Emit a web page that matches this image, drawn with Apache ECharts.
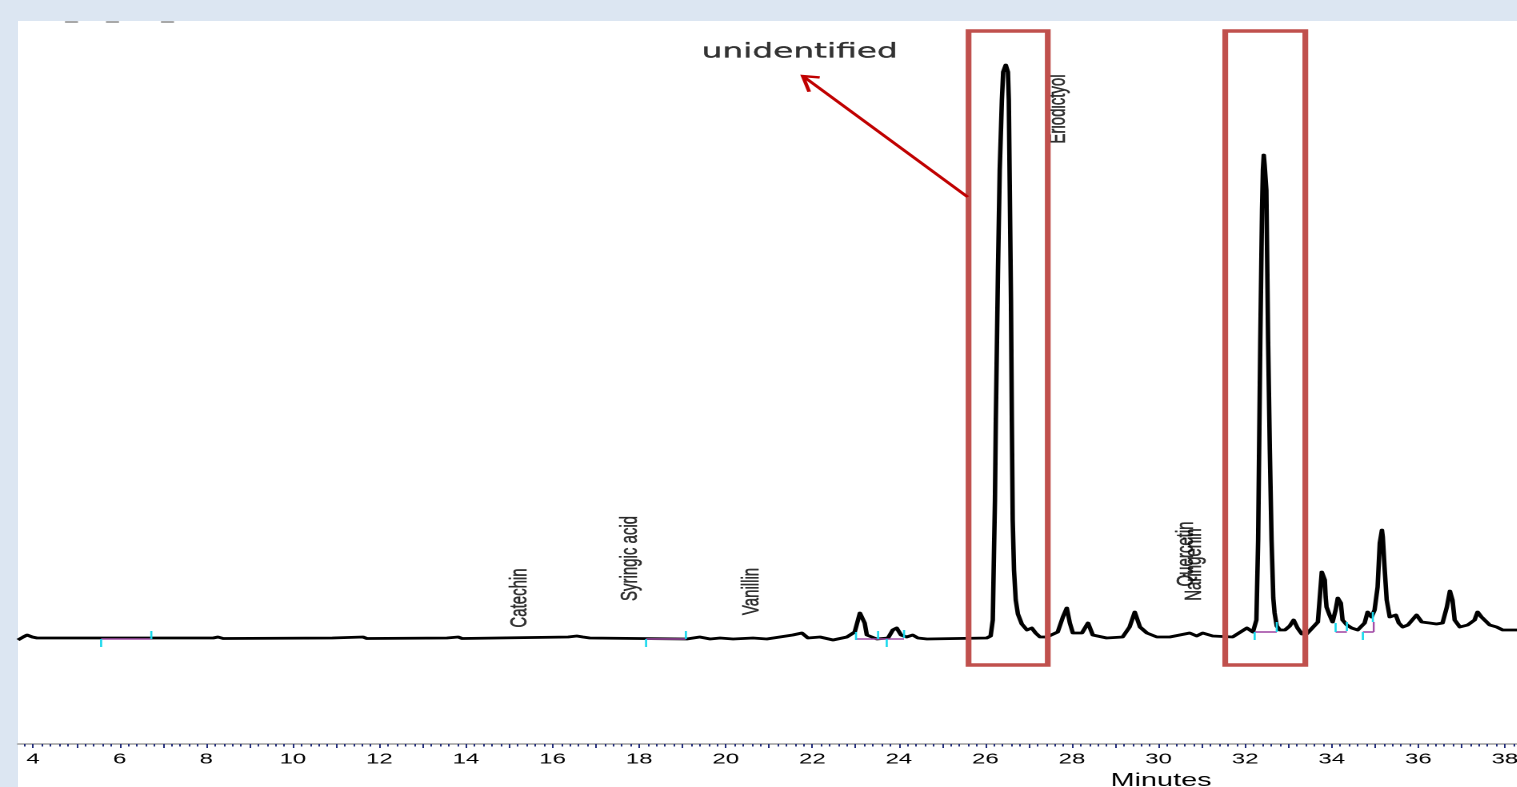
<!DOCTYPE html>
<html><head><meta charset="utf-8">
<script src="https://cdn.jsdelivr.net/npm/echarts@6/dist/echarts.min.js"></script>
<style>
html,body{margin:0;padding:0;background:#dce6f2;overflow:hidden;width:1517px;height:787px;}
#panel{position:absolute;left:18px;top:21px;width:1499px;height:766px;background:#fff;}
#wrap{position:absolute;left:0;top:0;width:948.125px;height:787px;transform:scaleX(1.6);transform-origin:0 0;}
#chart{position:absolute;left:0;top:0;width:948.125px;height:787px;}
</style></head><body>
<div id="panel"></div>
<div id="wrap"><div id="chart"></div></div>
<script>
// ---------------- data ----------------
const retentionTime = [
 3.65,3.77,3.86,3.98,4.09,8.16,8.27,8.39,10.91,10.97,11.62,11.71,13.56,13.63,13.82,13.91,
 16.36,16.56,16.70,16.86,19.10,19.40,19.64,19.87,20.17,20.63,20.95,21.25,21.55,21.76,21.90,
 22.18,22.48,22.80,22.98,23.10,23.15,23.21,23.26,23.49,23.75,23.86,23.95,24.05,24.18,24.32,
 24.44,24.65,26.03,26.12,26.17,26.19,26.22,26.24,26.29,26.33,26.38,26.41,26.47,26.52,26.54,
 26.56,26.59,26.61,26.63,26.66,26.70,26.75,26.84,26.96,27.07,27.16,27.26,27.42,27.67,27.79,
 27.88,27.95,28.02,28.23,28.37,28.48,28.80,29.17,29.33,29.45,29.57,29.73,29.96,30.26,30.72,
 30.88,31.02,31.25,31.71,32.04,32.18,32.26,32.30,32.35,32.39,32.41,32.43,32.45,32.49,32.53,
 32.57,32.61,32.65,32.68,32.73,32.80,32.92,33.03,33.12,33.21,33.31,33.42,33.68,33.72,33.77,
 33.79,33.84,33.86,33.88,33.95,34.02,34.09,34.14,34.21,34.25,34.35,34.46,34.60,34.76,34.83,
 34.92,34.99,35.06,35.11,35.16,35.18,35.22,35.27,35.34,35.48,35.55,35.64,35.76,35.96,36.08,
 36.26,36.42,36.56,36.66,36.73,36.79,36.84,36.96,37.14,37.30,37.37,37.46,37.53,37.65,37.81,
 37.95,38.28
];
const absorbance = [
 -2,1,3,1,0,0,1,-0.5,0,1,1,-0.5,0,1,1,-0.5,
 1,2,1,0,-1,1,-1,0,-1,0,-1,1,3,5,0,
 1,-2,1,6,25,26,15,3,-1,0,8,10,3,1,3,
 0,-1,0,2,18,68,138,218,368,468,538,566,573,566,538,
 458,338,218,118,68,38,24,14,8,10,5,1,1,6,21,
 30,15,5,5,15,3,0,1,11,26,11,5,1,1,5,
 2,5,2,1,10,6,18,98,298,428,468,483,473,448,298,
 188,98,40,25,12,8,8,12,18,10,4,4,16,38,66,
 67,58,41,31,23,16,28,40,35,18,13,10,8,15,26,
 21,28,51,95,108,101,71,38,21,23,15,11,13,23,16,
 15,14,15,31,47,38,18,11,13,18,26,21,20,13,11,
 8,8
];
const tickLabels = [4,6,8,10,12,14,16,18,20,22,24,26,28,30,32,34,36,38];
const compoundNames = ['Catechin','Syringic acid','Vanillin','Eriodictyol','Quercetin','Naringenin'];
const compoundTimes = [15.25,17.79,20.61,27.68,30.63,30.82];
const highlightWindows = [[25.61,27.44],[31.54,33.39]];
const integrationStart = [5.57,18.16,23.01,32.22,34.09,34.72];
const integrationEnd   = [6.73,19.08,24.12,32.73,34.35,34.97];
const integrationLevel = [-1,-1,-1,6,6,6];
const peakMarkTimes = [5.57,6.73,18.16,19.08,23.01,23.52,23.72,24.12,32.22,32.73,34.09,34.35,34.72,34.95];
const peakMarkTop    = [-1,7,-1,7,6,7,-1,8,6,16,15,16,6,26];
const peakMarkBottom = [-9,-1,-9,-1,-2,-1,-9,0,-2,6,6,7,-2,16];
const annotationText = 'unidentified';
const annotationPoint = [21.71,586];
const arrowFrom = [25.59,441];
const arrowTo = [21.78,562];

// ---------------- layout ----------------
const S = 1.6;               // horizontal stretch of the reference picture
const W = 1517 / S, H = 787;
const X_MIN = 3.65, X_MAX = 38.28, Y_MIN = -106, Y_MAX = 617;
const labelCenters = [40,79.5,46.5,529,84,73.5];
const boxTop = 607, boxBottom = -27;
const FONT = 'Liberation Sans, Arial, sans-serif';

const majorTicks = []; for (let v = 4; v <= 38; v++) majorTicks.push(v);
const minorTicks = []; for (let i = 19; i <= 191; i++) minorTicks.push(+(i*0.2).toFixed(1));

const signal = retentionTime.map((t,i)=>[t,absorbance[i]]);

const chart = echarts.init(document.getElementById('chart'), null, {devicePixelRatio: 2, width: W, height: H});
chart.setOption({
  animation:false,
  grid:{left:18/S,right:0,top:21,bottom:43,containLabel:false,outerBoundsMode:'none'},
  xAxis:[{
    type:'value',min:X_MIN,max:X_MAX,
    axisLine:{show:true,onZero:false,lineStyle:{color:'#9c9c9c',width:1.5}},
    axisTick:{show:true,customValues:majorTicks,length:4,lineStyle:{color:'#1f2a7a',width:1}},
    axisLabel:{customValues:tickLabels,fontSize:15,color:'#000',margin:8,fontFamily:FONT},
    splitLine:{show:false},
    name:'Minutes',nameLocation:'middle',nameGap:25,
    nameTextStyle:{fontSize:18,color:'#000',fontFamily:FONT,padding:[0,0,0,492]}
  },{
    type:'value',min:X_MIN,max:X_MAX,position:'bottom',
    axisLine:{show:false,onZero:false},
    axisTick:{show:true,customValues:minorTicks,length:2.5,lineStyle:{color:'#1f2a7a',width:1}},
    axisLabel:{show:false},splitLine:{show:false}
  }],
  yAxis:{type:'value',min:Y_MIN,max:Y_MAX,show:false,splitLine:{show:false}},
  graphic:[
    {type:'rect',shape:{x:65/S,y:21,width:13/S,height:2},style:{fill:'#a8a8a8'}},
    {type:'rect',shape:{x:106/S,y:21,width:13/S,height:2},style:{fill:'#a8a8a8'}},
    {type:'rect',shape:{x:161/S,y:21,width:13/S,height:2},style:{fill:'#a8a8a8'}}
  ],
  series:[
    {
      name:'Signal',type:'line',data:signal,showSymbol:false,smooth:false,z:2,
      lineStyle:{color:'#000',width:2.8,join:'round'}
    },
    {
      name:'Integration baseline',type:'custom',z:3,
      data:integrationStart.map((s,i)=>[s,integrationEnd[i],integrationLevel[i]]),
      renderItem:function(p,api){
        const a=api.coord([api.value(0),api.value(2)]), b=api.coord([api.value(1),api.value(2)]);
        return {type:'line',shape:{x1:a[0],y1:a[1],x2:b[0],y2:b[1]},style:{stroke:'#a24ca6',lineWidth:1.6}};
      }
    },
    {
      name:'Peak marks',type:'custom',z:4,
      data:peakMarkTimes.map((t,i)=>[t,peakMarkTop[i],peakMarkBottom[i]]),
      renderItem:function(p,api){
        const a=api.coord([api.value(0),api.value(1)]), b=api.coord([api.value(0),api.value(2)]);
        return {type:'line',shape:{x1:a[0],y1:a[1],x2:b[0],y2:b[1]},style:{stroke:'#16d8ec',lineWidth:1.3}};
      }
    },
    {
      name:'Last baseline riser',type:'custom',z:3,
      data:[[integrationEnd[5],integrationLevel[5],16]],
      renderItem:function(p,api){
        const a=api.coord([api.value(0),api.value(1)]), b=api.coord([api.value(0),api.value(2)]);
        return {type:'line',shape:{x1:a[0],y1:a[1],x2:b[0],y2:b[1]},style:{stroke:'#a24ca6',lineWidth:1.2}};
      }
    },
    {
      name:'Compounds',type:'scatter',z:5,symbolSize:1,itemStyle:{color:'rgba(0,0,0,0)'},
      data:compoundNames.map((n,i)=>({name:n,value:[compoundTimes[i],labelCenters[i]]})),
      label:{show:true,position:'inside',rotate:90,formatter:'{b}',fontSize:15,color:'#000',fontFamily:FONT,
        textBorderColor:'#000',textBorderWidth:0.35},
      silent:true
    },
    {
      name:'Annotation',type:'scatter',z:6,symbolSize:1,itemStyle:{color:'rgba(0,0,0,0)'},
      data:[{name:annotationText,value:annotationPoint}],
      label:{show:true,position:'inside',formatter:'{b}',fontSize:20.5,color:'#000',fontFamily:'DejaVu Sans, Verdana, sans-serif',
        textBorderColor:'#000',textBorderWidth:0.3},
      silent:true
    },
    {
      name:'Highlight boxes',type:'custom',z:8,
      data:highlightWindows.map(w=>[w[0],w[1],boxTop,boxBottom]),
      renderItem:function(p,api){
        const a=api.coord([api.value(0),api.value(2)]), b=api.coord([api.value(1),api.value(3)]);
        return {type:'rect',shape:{x:a[0],y:a[1],width:b[0]-a[0],height:b[1]-a[1]},
          style:{fill:null,stroke:'#c0504d',lineWidth:3.6}};
      }
    },
    {
      name:'Arrow',type:'custom',z:9,
      data:[[arrowFrom[0],arrowFrom[1],arrowTo[0],arrowTo[1]]],
      renderItem:function(p,api){
        const a=api.coord([api.value(0),api.value(1)]), b=api.coord([api.value(2),api.value(3)]);
        const ax=a[0]*S, ay=a[1], bx=b[0]*S, by=b[1];
        const dx=ax-bx, dy=ay-by, L=Math.hypot(dx,dy), ux=dx/L, uy=dy/L;
        const len=17, ang=0.55;
        const w1=[bx+len*(ux*Math.cos(ang)-uy*Math.sin(ang)), by+len*(ux*Math.sin(ang)+uy*Math.cos(ang))];
        const w2=[bx+len*(ux*Math.cos(-ang)-uy*Math.sin(-ang)), by+len*(ux*Math.sin(-ang)+uy*Math.cos(-ang))];
        return {type:'group',children:[
          {type:'line',shape:{x1:a[0],y1:a[1],x2:b[0],y2:b[1]},style:{stroke:'#c00000',lineWidth:2.4}},
          {type:'polyline',shape:{points:[[w1[0]/S,w1[1]],[b[0],b[1]],[w2[0]/S,w2[1]]]},
            style:{stroke:'#c00000',lineWidth:2.4,fill:null,lineJoin:'miter'}}
        ]};
      }
    }
  ]
});
</script>
</body></html>
